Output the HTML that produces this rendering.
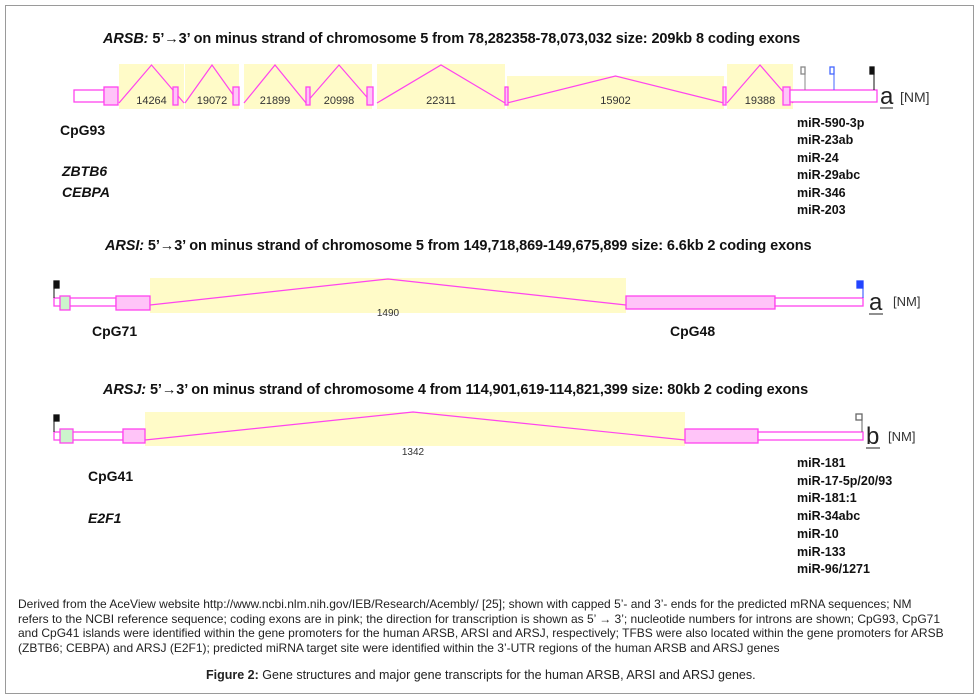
<!DOCTYPE html>
<html><head><meta charset="utf-8"><style>
body{margin:0;background:#fff;width:979px;height:699px;overflow:hidden;font-family:"Liberation Sans",sans-serif}
#frame{position:absolute;left:5px;top:5px;width:967px;height:687px;border:1px solid #9a9a9a}
.t{position:absolute;white-space:nowrap}
.b{font-weight:bold;font-size:14px;color:#111}
.h{font-size:14.5px;letter-spacing:-0.1px}
.cap{font-size:12px;color:#222;line-height:14.5px}
</style></head><body>
<div id="frame"></div>
<svg width="979" height="699" style="position:absolute;left:0;top:0">
<g id="g" font-family="Liberation Sans, sans-serif"></g>
</svg>
<div class="t b h" style="left:103px;top:31px"><i>ARSB:</i> 5’→3’ on minus strand of chromosome 5 from 78,282358-78,073,032 size: 209kb 8 coding exons</div>
<div class="t b h" style="left:105px;top:238px"><i>ARSI:</i> 5’→3’ on minus strand of chromosome 5 from 149,718,869-149,675,899 size: 6.6kb 2 coding exons</div>
<div class="t b h" style="left:103px;top:382px"><i>ARSJ:</i> 5’→3’ on minus strand of chromosome 4 from 114,901,619-114,821,399 size: 80kb 2 coding exons</div>
<div class="t b" style="left:60px;top:122px">CpG93</div>
<div class="t b" style="left:62px;top:163px"><i>ZBTB6</i></div>
<div class="t b" style="left:62px;top:184px"><i>CEBPA</i></div>
<div class="t b" style="left:797px;top:115px;font-size:12.5px;line-height:17.4px">miR-590-3p<br>miR-23ab<br>miR-24<br>miR-29abc<br>miR-346<br>miR-203</div>
<div class="t b" style="left:92px;top:323px">CpG71</div>
<div class="t b" style="left:670px;top:323px">CpG48</div>
<div class="t b" style="left:88px;top:468px">CpG41</div>
<div class="t b" style="left:88px;top:510px"><i>E2F1</i></div>
<div class="t b" style="left:797px;top:455px;font-size:12.5px;line-height:17.7px">miR-181<br>miR-17-5p/20/93<br>miR-181:1<br>miR-34abc<br>miR-10<br>miR-133<br>miR-96/1271</div>
<div class="t cap" style="left:18px;top:597px">Derived from the AceView website http://www.ncbi.nlm.nih.gov/IEB/Research/Acembly/ [25]; shown with capped 5’- and 3’- ends for the predicted mRNA sequences; NM<br>refers to the NCBI reference sequence; coding exons are in pink; the direction for transcription is shown as 5’ → 3’; nucleotide numbers for introns are shown; CpG93, CpG71<br>and CpG41 islands were identified within the gene promoters for the human ARSB, ARSI and ARSJ, respectively; TFBS were also located within the gene promoters for ARSB<br>(ZBTB6; CEBPA) and ARSJ (E2F1); predicted miRNA target site were identified within the 3’-UTR regions of the human ARSB and ARSJ genes</div>
<div class="t" style="left:206px;top:668px;font-size:12.5px;color:#222"><b>Figure 2:</b> Gene structures and major gene transcripts for the human ARSB, ARSI and ARSJ genes.</div>
<script>
const introns=[{x0:119,x1:184,top:64,y:109,peak:65,label:"14264"},{x0:185,x1:239,top:64,y:109,peak:65,label:"19072"},{x0:244,x1:306,top:64,y:109,peak:65,label:"21899"},{x0:306,x1:372,top:64,y:109,peak:65,label:"20998"},{x0:377,x1:505,top:64,y:109,peak:65,label:"22311"},{x0:507,x1:724,top:76,y:109,peak:76,label:"15902"},{x0:727,x1:793,top:64,y:109,peak:65,label:"19388"}];
const g=document.getElementById('g');const NS='http://www.w3.org/2000/svg';
function mk(t,a,name){const e=document.createElementNS(NS,t);for(const k in a)e.setAttribute(k,a[k]);


g.appendChild(e);return e;}
function rect(x,y,w,h,f,s,n){return mk('rect',{x:x,y:y,width:w,height:h,fill:f,stroke:s,'stroke-width':1.3},n);}
function line(x1,y1,x2,y2,c,n,w){return mk('line',{x1:x1,y1:y1,x2:x2,y2:y2,stroke:c,'stroke-width':w||1.3},n);}
function txt(x,y,s,sz,n,anchor,col){const e=mk('text',{x:x,y:y,'font-size':sz,fill:col||'#333','text-anchor':anchor||'middle'},n);e.textContent=s;return e;}
const P='#ff44ee',PF='#ffc4f8',Y='#fffbc8';
introns.forEach((d,i)=>{rect(d.x0,d.top,d.x1-d.x0,d.y-d.top,Y,'none','intron-bg-'+i);});
introns.forEach((d,i)=>{const mid=(d.x0+d.x1)/2;mk('polyline',{points:`${d.x0},103 ${mid},${d.peak} ${d.x1},103`,fill:'none',stroke:P,'stroke-width':1.2},'intron-line-'+i);txt(mid,104,d.label,11,'intron-length-'+i);});
rect(74,90,30,12,'#fff',P,'arsb-5utr');rect(104,87,14,18,PF,P,'arsb-exon-1');
[[173,178],[233,239],[306,310],[367,373],[505,508],[723,726],[783,790]].forEach((e,i)=>rect(e[0],87,e[1]-e[0],18,PF,P,'arsb-exon-'+(i+2)));
rect(790,90,87,12,'#fff',P,'arsb-3utr');
[[805,'#888','#fff'],[834,'#4466ff','#fff'],[874,'#111','#111']].forEach((c,i)=>{line(c[0],71,c[0],90,c[1],'arsb-cap-pole-'+i,1);rect(c[0]-4,67,4,7,c[2],c[1],'arsb-cap-flag-'+i);});
txt(880,104,'a',24,'arsb-variant-a','start','#222');line(880,108,893,108,'#222','arsb-variant-underline',1);txt(900,102,'[NM]',14,'arsb-nm','start','#333');
rect(150,278,476,35,Y,'none','arsi-intron-bg');
mk('polyline',{points:'150,305 388,279 626,305',fill:'none',stroke:P,'stroke-width':1.2},'arsi-intron-line');txt(388,316,'1490',10,'arsi-intron-length');
rect(54,298,62,8,'#fff',P,'arsi-5utr');rect(60,296,10,14,'#ccf5cc',P,'arsi-cpg-box');rect(116,296,34,14,PF,P,'arsi-exon-1');rect(626,296,149,13,PF,P,'arsi-exon-2');rect(775,298,88,8,'#fff',P,'arsi-3utr');
line(54,281,54,298,'#111','arsi-5cap-pole',1);rect(54,281,5,7,'#111','#111','arsi-5cap-flag');
line(863,281,863,298,'#2244ff','arsi-3cap-pole',1);rect(857,281,6,7,'#2244ff','#2244ff','arsi-3cap-flag');
txt(869,310,'a',24,'arsi-variant-a','start','#222');line(869,314,883,314,'#222','arsi-variant-underline',1);txt(893,306,'[NM]',13,'arsi-nm','start','#333');
rect(145,412,540,34,Y,'none','arsj-intron-bg');
mk('polyline',{points:'145,440 413,412 685,440',fill:'none',stroke:P,'stroke-width':1.2},'arsj-intron-line');txt(413,455,'1342',10,'arsj-intron-length');
rect(54,432,69,8,'#fff',P,'arsj-5utr');rect(60,429,13,14,'#ccf5cc',P,'arsj-cpg-box');rect(123,429,22,14,PF,P,'arsj-exon-1');rect(685,429,73,14,PF,P,'arsj-exon-2');rect(758,432,105,8,'#fff',P,'arsj-3utr');
line(54,415,54,432,'#111','arsj-5cap-pole',1);rect(54,415,5,6,'#111','#111','arsj-5cap-flag');
line(862,414,862,432,'#666','arsj-3cap-pole',1);rect(856,414,6,6,'#fff','#666','arsj-3cap-flag');
txt(866,444,'b',24,'arsj-variant-b','start','#222');line(866,448,880,448,'#222','arsj-variant-underline',1);txt(888,441,'[NM]',13,'arsj-nm','start','#333');
</script>
</body></html>
